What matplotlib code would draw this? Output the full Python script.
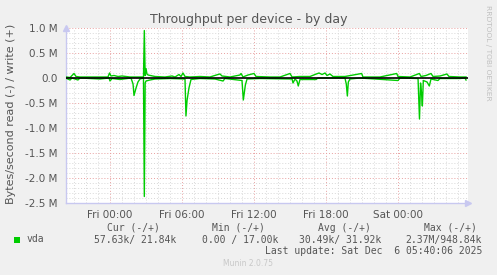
import matplotlib
matplotlib.use("Agg")
import matplotlib.pyplot as plt

# ====== data (hours relative to Fri 00:00, values in bytes/s) ======
write_hours = [-3.61, -3.33, -3.0, -2.83, -2.5, -2.08, -0.83, -0.17, -0.04, 0.08,
               0.33, 0.67, 1.0, 1.67, 2.0, 2.5, 2.79, 2.86, 2.93, 3.0,
               3.08, 3.17, 3.75, 4.58, 5.17, 5.42, 5.75, 5.92, 6.08, 6.25,
               6.67, 7.5, 8.33, 9.0, 9.17, 9.33, 10.0, 10.83, 10.92, 11.08,
               11.5, 12.0, 12.17, 13.33, 14.17, 15.0, 15.17, 15.83, 16.67, 17.08,
               17.42, 17.67, 17.92, 18.08, 18.33, 18.58, 19.58, 20.97, 21.08, 22.5,
               23.89, 24.0, 25.0, 25.78, 25.92, 26.33, 26.75, 26.92, 27.5, 28.08,
               28.25, 29.17, 29.67]
write_vals = [0.02, 0.01, 0.09, 0.03, 0.02, 0.02, 0.02, 0.02, 0.10, 0.04,
              0.05, 0.03, 0.04, 0.02, 0.02, 0.02, 0.02, 0.95, 0.05, 0.19,
              0.08, 0.06, 0.03, 0.02, 0.04, 0.02, 0.07, 0.03, 0.10, 0.03,
              0.02, 0.03, 0.02, 0.07, 0.08, 0.04, 0.02, 0.06, 0.09, 0.02,
              0.06, 0.09, 0.03, 0.02, 0.02, 0.09, 0.02, 0.03, 0.03, 0.07,
              0.10, 0.07, 0.10, 0.05, 0.08, 0.03, 0.03, 0.09, 0.02, 0.02,
              0.09, 0.03, 0.02, 0.09, 0.03, 0.05, 0.09, 0.03, 0.04, 0.08,
              0.03, 0.02, 0.02]  # M

read_hours = [-3.61, -3.33, -3.17, -2.67, -2.5, -0.83, -0.08, 0.0, 0.17, 0.83,
              1.75, 1.92, 2.0, 2.17, 2.33, 2.5, 2.79, 2.86, 2.93, 3.0,
              3.33, 3.75, 5.0, 6.25, 6.33, 6.42, 6.58, 6.75, 7.5, 8.75,
              9.42, 9.58, 11.0, 11.11, 11.19, 11.28, 11.42, 12.5, 15.17, 15.25,
              15.42, 15.58, 15.69, 15.83, 17.17, 17.33, 19.58, 19.69, 19.78, 19.86,
              20.0, 20.83, 24.0, 24.17, 25.67, 25.79, 25.88, 25.96, 26.03, 26.11,
              26.42, 26.61, 26.75, 27.33, 27.5, 29.17, 29.58, 29.67]
read_vals = [0.01, 0.04, 0.0, 0.04, 0.0, 0.02, 0.0, 0.06, 0.01, 0.03,
             0.0, 0.12, 0.35, 0.2, 0.08, 0.02, 0.0, 2.37, 0.1, 0.06,
             0.04, 0.02, 0.01, 0.02, 0.76, 0.45, 0.2, 0.03, 0.01, 0.02,
             0.06, 0.01, 0.05, 0.44, 0.3, 0.14, 0.02, 0.01, 0.02, 0.10,
             0.02, 0.06, 0.16, 0.03, 0.03, 0.0, 0.0, 0.12, 0.36, 0.08,
             0.02, 0.0, 0.05, 0.0, 0.01, 0.82, 0.1, 0.3, 0.56, 0.05,
             0.08, 0.16, 0.02, 0.05, 0.01, 0.01, 0.0, 0.04]  # M

x_ticks = [0, 6, 12, 18, 24]
x_labels = ["Fri 00:00", "Fri 06:00", "Fri 12:00", "Fri 18:00", "Sat 00:00"]
y_ticks = [1.0, 0.5, 0.0, -0.5, -1.0, -1.5, -2.0, -2.5]
y_labels = ["1.0 M", "0.5 M", "0.0", "-0.5 M", "-1.0 M", "-1.5 M", "-2.0 M", "-2.5 M"]

legend_heads = ["Cur (-/+)", "Min (-/+)", "Avg (-/+)", "Max (-/+)"]
legend_vals = ["57.63k/ 21.84k", "0.00 / 17.00k", "30.49k/ 31.92k", "2.37M/948.84k"]

# ====== figure ======
W, H = 497, 275
BG = "#F0F0F0"
TXT = "#555555"
fig = plt.figure(figsize=(W / 100, H / 100), dpi=100, facecolor=BG)
ax = fig.add_axes([66 / W, (H - 203) / H, (468 - 66) / W, 175 / H])
ax.set_facecolor("white")

x0, x1 = (66 - 110) / 12, (468 - 110) / 12
ax.set_xlim(x0, x1)
ax.set_ylim(-2.5, 1.0)

# grid (munin style dotted)
dot = (0, (1, 2))
h = -3
while h <= x1:
    if h > x0:
        major = h % 6 == 0
        ax.axvline(h, color="#E8A0A0" if major else "#D8D8D8", lw=0.7, ls=dot, zorder=1)
    h += 1
for i in range(-25, 11):
    v = i / 10
    major = i % 5 == 0
    ax.axhline(v, color="#E8A0A0" if major else "#D8D8D8", lw=0.7, ls=dot, zorder=1)

ax.plot(write_hours, write_vals, color="#00CC00", lw=1.0, zorder=3)
ax.plot(read_hours, [-v for v in read_vals], color="#00CC00", lw=1.0, zorder=3)
ax.axhline(0, color="black", lw=1.2, zorder=4)

for s in ["top", "right"]:
    ax.spines[s].set_visible(False)
for s in ["left", "bottom"]:
    ax.spines[s].set_color("#C8C8F0")
    ax.spines[s].set_linewidth(1.0)
ax.plot([0], [1.0], marker="^", ms=5, color="#C8C8F0", transform=ax.transAxes, clip_on=False)
ax.plot([1.0], [0], marker=">", ms=5, color="#C8C8F0", transform=ax.transAxes, clip_on=False)

ax.set_xticks(x_ticks)
ax.set_xticklabels(x_labels)
ax.set_yticks(y_ticks)
ax.set_yticklabels(y_labels)
ax.tick_params(axis="both", length=0, labelsize=7.5, colors=TXT, pad=6)
ax.tick_params(axis="x", pad=5)

fig.text(0.5, 1 - 19 / H, "Throughput per device - by day", ha="center", va="center",
         fontsize=9, color=TXT)
fig.text(11 / W, 1 - 114 / H, "Bytes/second read (-) / write (+)", rotation=90,
         ha="center", va="center", fontsize=8, color=TXT)
fig.text(488 / W, 1 - 53 / H, "RRDTOOL / TOBI OETIKER", rotation=270,
         ha="center", va="center", fontsize=5.4, color="#C0C0C0")

mono = "DejaVu Sans Mono"
head_right = [160, 265, 371, 477]
val_right = [176, 278, 381, 482]
for t, xr in zip(legend_heads, head_right):
    fig.text(xr / W, 1 - 228 / H, t, ha="right", va="center", family=mono, fontsize=7, color=TXT)
for t, xr in zip(legend_vals, val_right):
    fig.text(xr / W, 1 - 239.5 / H, t, ha="right", va="center", family=mono, fontsize=7, color=TXT)
fig.patches.append(plt.Rectangle((14 / W, 1 - 243 / H), 6 / W, 6 / H, transform=fig.transFigure,
                                 facecolor="#00CC00", edgecolor="none"))
fig.text(27 / W, 1 - 239.5 / H, "vda", ha="left", va="center", family=mono, fontsize=7, color=TXT)
fig.text(482 / W, 1 - 251 / H, "Last update: Sat Dec  6 05:40:06 2025", ha="right", va="center",
         family=mono, fontsize=7, color=TXT)
fig.text(248 / W, 1 - 264 / H, "Munin 2.0.75", ha="center", va="center", fontsize=5.5, color="#C8C8C8")

fig.savefig("out.png", dpi=100, facecolor=BG)
